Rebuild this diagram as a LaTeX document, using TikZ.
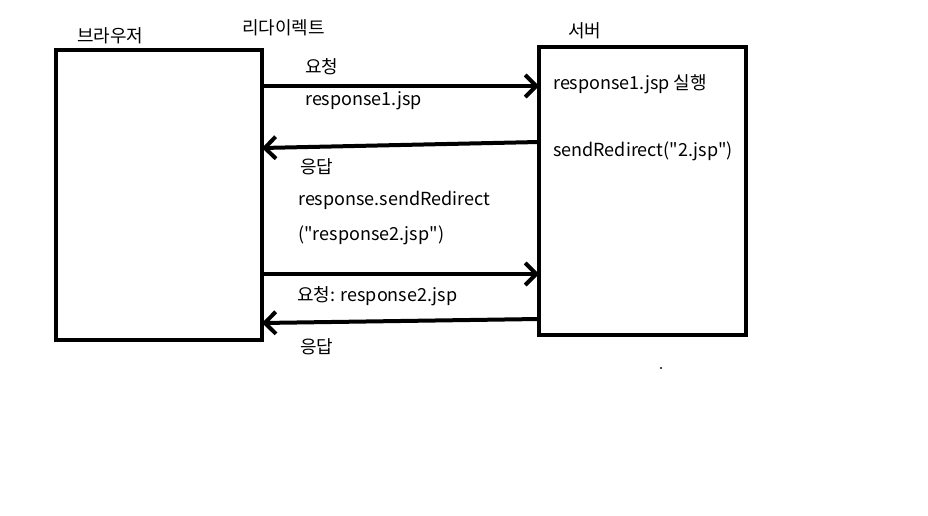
\documentclass[tikz,border=0pt]{standalone}
\usepackage{fontspec}
\setmainfont{Noto Sans CJK KR}
\usetikzlibrary{arrows.meta}

\begin{document}
\begin{tikzpicture}[
          x=1pt, y=-1pt,
          font=\fontsize{18pt}{21pt}\selectfont,
          box/.style={draw, line width=4.5pt, inner sep=0pt, outer sep=0pt},
          msg/.style={-{Straight Barb[length=11pt, width=22pt, line width=4pt]}, line width=4pt},
          lbl/.style={anchor=west, inner sep=0pt}
      ]
          \useasboundingbox (0,0) rectangle (928,516);

          % Browser and server
          \node[box, minimum width=206pt, minimum height=290pt] (browser) at (159,195) {};
          \node[box, minimum width=207pt, minimum height=288pt] (server) at (642.5,191) {};
          \node[lbl] (browser_lbl) at (77,36) {브라우저};
          \node[lbl] (title) at (242,28) {리다이렉트};
          \node[lbl] (server_lbl) at (568,31) {서버};

          % First request
          \draw[msg] ([yshift=-36pt]browser.north east) -- ([yshift=-39pt]server.north west);
          \node[lbl] (req1) at (305,67) {요청};
          \node[lbl] (req1_file) at (305,101) {response1.jsp};
          \node[lbl] (run1) at (553,84) {response1.jsp 실행};
          \node[lbl] (redir) at (553,151) {sendRedirect(\textquotedbl2.jsp\textquotedbl)};

          % Redirect response
          \draw[msg] ([yshift=-95pt]server.north west) -- ([yshift=-98pt]browser.north east);
          \node[lbl] (res1) at (300,167) {응답};
          \node[lbl] (res1_call) at (298,200) {response.sendRedirect};
          \node[lbl] (res1_arg) at (298,235) {(\textquotedbl response2.jsp\textquotedbl)};

          % Second request
          \draw[msg] ([yshift=-224pt]browser.north east) -- ([yshift=-227pt]server.north west);
          \node[lbl] (req2) at (297,296) {요청: response2.jsp};

          % Second response
          \draw[msg] ([yshift=-272pt]server.north west) -- ([yshift=-273pt]browser.north east);
          \node[lbl] (res2) at (300,347) {응답};

          \fill[black!70] (660,367) rectangle (662,369);
      \end{tikzpicture}
\end{document}
